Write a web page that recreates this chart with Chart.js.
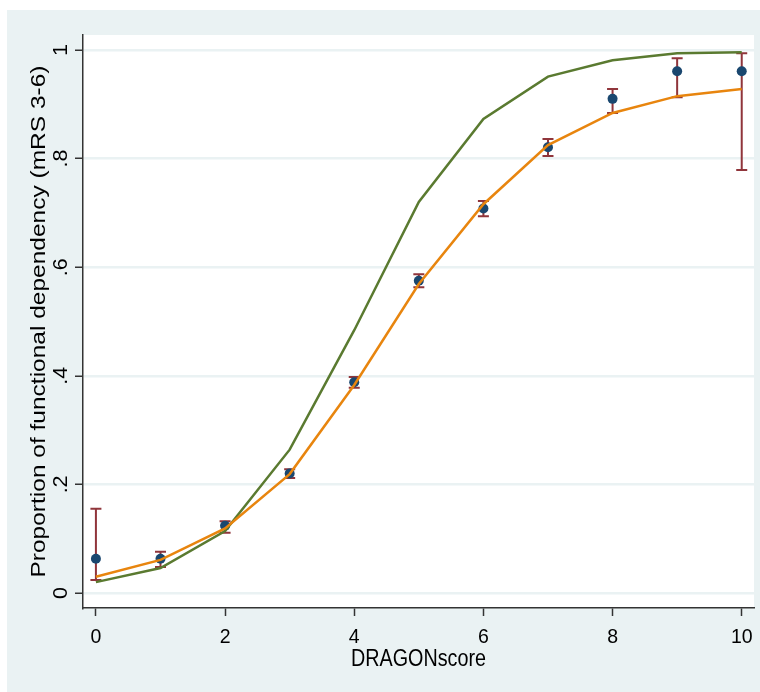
<!DOCTYPE html>
<html>
<head>
<meta charset="utf-8">
<script src="https://cdn.jsdelivr.net/npm/chart.js@4"></script>
<style>
  html, body { margin: 0; padding: 0; background: #fff; }
  #wrap { width: 760px; height: 692px; }
</style>
</head>
<body>
<div id="wrap"><canvas id="chart" width="760" height="692"></canvas></div>
<script>
const scores = [0, 1, 2, 3, 4, 5, 6, 7, 8, 9, 10];
const observed = [0.063, 0.063, 0.124, 0.220, 0.388, 0.575, 0.708, 0.821, 0.910, 0.961, 0.961];
const ciLow = [0.024, 0.048, 0.111, 0.212, 0.378, 0.563, 0.694, 0.805, 0.884, 0.913, 0.779];
const ciHigh = [0.155, 0.076, 0.132, 0.228, 0.398, 0.587, 0.722, 0.836, 0.928, 0.985, 0.994];
const predictedOrange = [0.030, 0.061, 0.119, 0.219, 0.383, 0.569, 0.716, 0.825, 0.884, 0.915, 0.928];
const predictedGreen = [0.020, 0.046, 0.114, 0.264, 0.484, 0.720, 0.873, 0.951, 0.981, 0.994, 0.996];

const xTicks = [0, 2, 4, 6, 8, 10];
const yTicks = [0, 0.2, 0.4, 0.6, 0.8, 1];
const yTickLabels = ["0", ".2", ".4", ".6", ".8", "1"];
const xTitle = "DRAGONscore";
const yTitle = "Proportion of functional dependency (mRS 3-6)";

const NAVY = "#1a476f";
const MAROON = "#90353b";
const GREEN = "#5a7a30";
const ORANGE = "#e8850e";
const BG = "#eaf2f3";
const FONT = '"Liberation Sans", Arial, sans-serif';

function points(values) {
  return scores.map((x, i) => ({ x, y: values[i] }));
}

// draw text with separate sizes along and across the text direction
function drawText(ctx, text, x, y, angle, along, across, align) {
  ctx.save();
  ctx.translate(x, y);
  ctx.rotate(angle);
  ctx.scale(along / across, 1);
  ctx.font = `${across}px ${FONT}`;
  ctx.textAlign = align;
  ctx.textBaseline = "alphabetic";
  ctx.fillStyle = "#000";
  ctx.fillText(text, 0, 0);
  ctx.restore();
}

const backdrop = {
  id: "backdrop",
  beforeDraw(chart) {
    const { ctx, chartArea: a } = chart;
    ctx.save();
    ctx.fillStyle = "#fff";
    ctx.fillRect(0, 0, chart.width, chart.height);
    ctx.fillStyle = BG;
    ctx.fillRect(7, 10, chart.width - 7, chart.height - 10);
    ctx.fillStyle = "#fff";
    ctx.fillRect(a.left, a.top, a.right - a.left, a.bottom - a.top);
    ctx.restore();
  },
};

const errorBars = {
  id: "errorBars",
  beforeDatasetsDraw(chart) {
    const { ctx, scales } = chart;
    ctx.save();
    ctx.strokeStyle = MAROON;
    ctx.lineWidth = 2;
    scores.forEach((s, i) => {
      const px = scales.x.getPixelForValue(s);
      const lo = scales.y.getPixelForValue(ciLow[i]);
      const hi = scales.y.getPixelForValue(ciHigh[i]);
      ctx.beginPath();
      ctx.moveTo(px, lo);
      ctx.lineTo(px, hi);
      ctx.moveTo(px - 5.5, lo);
      ctx.lineTo(px + 5.5, lo);
      ctx.moveTo(px - 5.5, hi);
      ctx.lineTo(px + 5.5, hi);
      ctx.stroke();
    });
    ctx.restore();
  },
};

const axisText = {
  id: "axisText",
  afterDraw(chart) {
    const { ctx, scales, chartArea: a } = chart;
    xTicks.forEach((t) => {
      drawText(ctx, String(t), scales.x.getPixelForValue(t), 643, 0, 19.5, 21, "center");
    });
    yTicks.forEach((t, i) => {
      drawText(ctx, yTickLabels[i], 67, scales.y.getPixelForValue(t), -Math.PI / 2, 21.5, 20.5, "center");
    });
    drawText(ctx, xTitle, (a.left + a.right) / 2, 666, 0, 19.75, 23, "center");
    drawText(ctx, yTitle, 45, (a.top + a.bottom) / 2, -Math.PI / 2, 24.5, 21, "center");
  },
};

new Chart(document.getElementById("chart"), {
  type: "scatter",
  data: {
    datasets: [
      {
        type: "line",
        data: points(predictedOrange),
        borderColor: ORANGE,
        borderWidth: 2.5,
        pointRadius: 0,
        tension: 0,
      },
      {
        type: "line",
        data: points(predictedGreen),
        borderColor: GREEN,
        borderWidth: 2.5,
        pointRadius: 0,
        tension: 0,
      },
      {
        data: points(observed),
        backgroundColor: NAVY,
        borderColor: NAVY,
        pointRadius: 5,
        borderWidth: 0,
      },
    ],
  },
  options: {
    responsive: false,
    animation: false,
    layout: { padding: { left: 0, right: 6, top: 35, bottom: 0 } },
    plugins: {
      legend: { display: false },
      tooltip: { enabled: false },
    },
    scales: {
      x: {
        type: "linear",
        min: -0.2,
        max: 10.19,
        afterBuildTicks: (s) => { s.ticks = xTicks.map((v) => ({ value: v })); },
        afterFit: (s) => { s.height = 84; },
        ticks: { display: false },
        grid: {
          drawOnChartArea: false,
          tickLength: 8,
          tickColor: "#333",
          tickWidth: 1.5,
        },
        border: { display: true, color: "#333", width: 1.5 },
      },
      y: {
        type: "linear",
        min: -0.0276,
        max: 1.0276,
        afterBuildTicks: (s) => { s.ticks = yTicks.map((v) => ({ value: v })); },
        afterFit: (s) => { s.width = 83; },
        ticks: { display: false },
        grid: {
          color: BG,
          lineWidth: 2.5,
          tickLength: 8,
          tickColor: "#333",
          tickWidth: 1.5,
        },
        border: { display: true, color: "#333", width: 1.5 },
      },
    },
  },
  plugins: [backdrop, errorBars, axisText],
});
</script>
</body>
</html>
